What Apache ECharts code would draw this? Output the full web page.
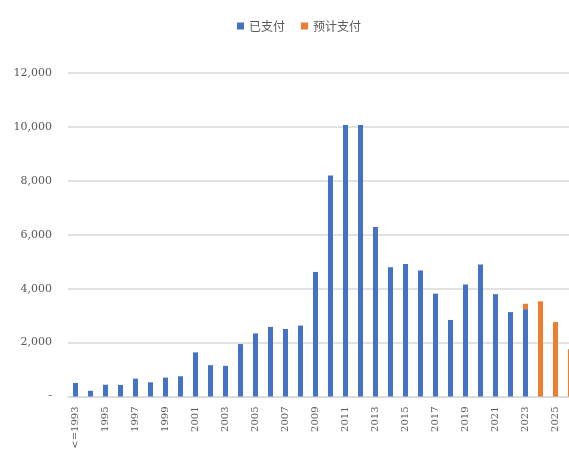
<!DOCTYPE html>
<html>
<head>
<meta charset="utf-8">
<script src="https://cdn.jsdelivr.net/npm/echarts@6/dist/echarts.min.js"></script>
<style>
  html, body { margin: 0; padding: 0; background: #ffffff; }
  #chart { width: 569px; height: 450px; }
</style>
</head>
<body>
<div id="chart"></div>
<script>
// Years on the category axis (first bucket groups everything up to 1993)
const categories = ['<=1993', '1994', '1995', '1996', '1997', '1998', '1999', '2000',
  '2001', '2002', '2003', '2004', '2005', '2006', '2007', '2008', '2009', '2010',
  '2011', '2012', '2013', '2014', '2015', '2016', '2017', '2018', '2019', '2020',
  '2021', '2022', '2023', '2024', '2025', '2026'];

// Amounts already paid
const paid = [500, 212, 435, 430, 662, 525, 700, 750,
  1637, 1162, 1137, 1945, 2340, 2580, 2505, 2630, 4620, 8200,
  10070, 10070, 6290, 4790, 4915, 4675, 3815, 2840, 4155, 4895,
  3795, 3130, 3240, null, null, null];

// Amounts expected to be paid (stacked on top of the paid amount)
const expected = [null, null, null, null, null, null, null, null,
  null, null, null, null, null, null, null, null, null, null,
  null, null, null, null, null, null, null, null, null, null,
  null, null, 200, 3530, 2760, 1750];

// Value axis ticks
const yMin = 0, yMax = 12000, yStep = 2000;

const seriesNames = ['已支付', '预计支付'];

function fmtAxis(v) {
  if (v === 0) return '-';
  return String(v).replace(/\B(?=(\d{3})+(?!\d))/g, ',');
}

const chart = echarts.init(document.getElementById('chart'), null, { renderer: 'canvas' });
chart.setOption({
  animation: false,
  backgroundColor: '#ffffff',
  legend: {
    top: 15,
    left: 232,
    itemWidth: 7,
    itemHeight: 7,
    itemGap: 16,
    icon: 'rect',
    textStyle: { color: '#595959', fontSize: 12, fontFamily: 'Noto Sans CJK SC' },
    data: seriesNames
  },
  // plot area runs a little past the right edge of the canvas
  grid: {
    left: 68, width: 510, top: 73, bottom: 53.5,
    containLabel: false,
    outerBoundsMode: 'none'
  },
  xAxis: {
    type: 'category',
    data: categories,
    axisLine: { show: true, lineStyle: { color: '#d9d9d9', width: 1.5 } },
    axisTick: { show: false },
    axisLabel: {
      interval: 1,
      rotate: 90,
      margin: 10,
      color: '#595959',
      fontSize: 10,
      fontFamily: 'DejaVu Serif'
    }
  },
  yAxis: {
    type: 'value',
    min: yMin,
    max: yMax,
    interval: yStep,
    axisLine: { show: false },
    axisTick: { show: false },
    splitLine: { lineStyle: { color: '#d9d9d9', width: 1.5 } },
    axisLabel: {
      formatter: fmtAxis,
      margin: 16,
      color: '#595959',
      fontSize: 11,
      fontFamily: 'DejaVu Serif'
    }
  },
  series: [
    {
      name: seriesNames[0],
      type: 'bar',
      stack: 'total',
      barWidth: 5,
      itemStyle: { color: '#4472C4' },
      data: paid
    },
    {
      name: seriesNames[1],
      type: 'bar',
      stack: 'total',
      barWidth: 5,
      itemStyle: { color: '#ED7D31' },
      data: expected
    }
  ]
});
</script>
</body>
</html>
